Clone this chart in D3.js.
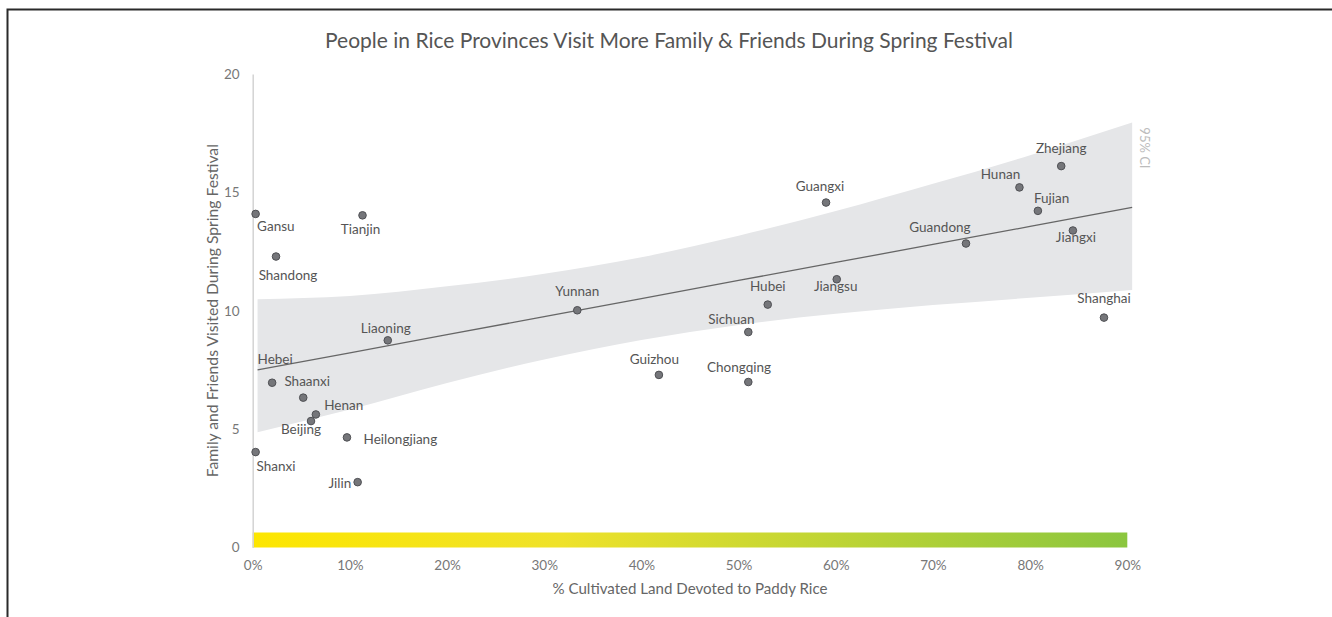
<!DOCTYPE html>
<html>
<head>
<meta charset="utf-8">
<script src="https://cdn.jsdelivr.net/npm/d3@7"></script>
<style>
  html, body { margin: 0; padding: 0; background: #fff; }
  svg { display: block; }
  text { font-family: Lato, "Open Sans", sans-serif; }
</style>
</head>
<body>
<svg id="chart" width="1332" height="617"></svg>
<script>
// Provinces: share of cultivated land in paddy rice (%) and family/friends visited
const provinces = ["Gansu", "Tianjin", "Shandong", "Liaoning", "Hebei", "Shaanxi", "Henan", "Beijing",
  "Heilongjiang", "Shanxi", "Jilin", "Yunnan", "Hubei", "Sichuan", "Guizhou", "Chongqing",
  "Guangxi", "Jiangsu", "Guandong", "Hunan", "Fujian", "Zhejiang", "Jiangxi", "Shanghai"];
const riceShare = [0.3, 11.3, 2.4, 13.9, 2.0, 5.2, 6.5, 6.0,
  9.7, 0.3, 10.8, 33.4, 53.0, 51.0, 41.8, 51.0,
  59.0, 60.1, 73.4, 78.9, 80.8, 83.2, 84.4, 87.6];
const visited = [14.09, 14.03, 12.29, 8.75, 6.96, 6.33, 5.62, 5.34,
  4.65, 4.03, 2.76, 10.02, 10.26, 9.10, 7.29, 6.99,
  14.57, 11.33, 12.84, 15.21, 14.22, 16.11, 13.39, 9.71];

// Fitted trend with its 95% confidence band
const fitX = [0.5, 10, 20, 30, 40, 50, 60, 70, 80, 90.5];
const fitY = [7.50, 8.22, 8.99, 9.75, 10.51, 11.28, 12.04, 12.80, 13.56, 14.37];
const ciUpper = [10.49, 10.62, 11.03, 11.56, 12.26, 13.17, 14.21, 15.36, 16.57, 17.95];
const ciLower = [4.87, 5.83, 6.95, 7.94, 8.76, 9.40, 9.87, 10.24, 10.55, 10.88];

const xTicks = [0, 10, 20, 30, 40, 50, 60, 70, 80, 90];
const yTicks = [0, 5, 10, 15, 20];

// Label placement around each dot: [dx, dy, anchor]
const labelPlacement = {
  Gansu: [1.5, 12, "start"], Tianjin: [-2, 14, "middle"], Shandong: [12, 18.5, "middle"],
  Liaoning: [-2, -12, "middle"], Hebei: [3, -23.5, "middle"], Shaanxi: [4, -16, "middle"],
  Henan: [8.3, -8.7, "start"], Beijing: [-10, 8.6, "middle"], Heilongjiang: [16.6, 2, "start"],
  Shanxi: [1, 14.3, "start"], Jilin: [-6.4, 1.6, "end"], Yunnan: [0, -19, "middle"],
  Hubei: [0, -18.6, "middle"], Sichuan: [-17, -12.7, "middle"], Guizhou: [-4.5, -15.7, "middle"],
  Chongqing: [-9.3, -15, "middle"], Guangxi: [-6, -16.3, "middle"], Jiangsu: [-1, 6.7, "middle"],
  Guandong: [-26, -16.6, "middle"], Hunan: [-19, -13, "middle"], Fujian: [13.7, -13, "middle"],
  Zhejiang: [0, -18, "middle"], Jiangxi: [3, 7, "middle"], Shanghai: [0, -19, "middle"]
};

const svg = d3.select("#chart");
const x = d3.scaleLinear().domain([0, 90]).range([252.7, 1127.3]);
const y = d3.scaleLinear().domain([0, 20]).range([547.5, 74]);

// frame lines along the top and left edges
svg.append("path")
  .attr("d", "M7.5,617V9.5H1332")
  .attr("fill", "none").attr("stroke", "#2a2a2a").attr("stroke-width", 2);

// title
svg.append("text")
  .attr("x", 669).attr("y", 48)
  .attr("text-anchor", "middle")
  .attr("font-size", 21).attr("fill", "#555")
  .text("People in Rice Provinces Visit More Family & Friends During Spring Festival");

// confidence band
const fitRows = fitX.map((v, i) => ({ x: v, fit: fitY[i], hi: ciUpper[i], lo: ciLower[i] }));
svg.append("path")
  .datum(fitRows)
  .attr("fill", "#e5e6e8")
  .attr("d", d3.area().curve(d3.curveMonotoneX)
    .x(d => x(d.x)).y0(d => y(d.lo)).y1(d => y(d.hi)));

svg.append("text")
  .attr("transform", `translate(${x(90.5) + 8},${y(18) + 6}) rotate(90)`)
  .attr("font-size", 13).attr("fill", "#bcbcbc")
  .text("95% CI");

// colour strip along the x axis
const defs = svg.append("defs");
const grad = defs.append("linearGradient").attr("id", "riceGrad")
  .attr("x1", "0%").attr("x2", "100%").attr("y1", "0%").attr("y2", "0%");
[["0%", "#fde600"], ["35%", "#efe22a"], ["100%", "#8bc63f"]].forEach(([o, c]) =>
  grad.append("stop").attr("offset", o).attr("stop-color", c));
svg.append("rect")
  .attr("x", x(0)).attr("width", x(90) - x(0))
  .attr("y", y(0) - 15).attr("height", 15)
  .attr("fill", "url(#riceGrad)");

// axes
const yAxis = svg.append("g")
  .attr("transform", `translate(${x(0)},0)`)
  .call(d3.axisLeft(y).tickValues(yTicks).tickSize(0).tickPadding(13));
yAxis.select(".domain").attr("stroke", "#d3d3d3").attr("stroke-width", 1.5);
yAxis.selectAll("text").attr("font-size", 13.5).attr("fill", "#777").attr("font-family", "Lato, sans-serif");

const xAxis = svg.append("g")
  .attr("transform", `translate(0,${y(0)})`)
  .call(d3.axisBottom(x).tickValues(xTicks).tickSize(0).tickPadding(13).tickFormat(d => d + "%"));
xAxis.select(".domain").remove();
xAxis.selectAll("text").attr("font-size", 13.5).attr("fill", "#777").attr("font-family", "Lato, sans-serif");

// axis titles
svg.append("text")
  .attr("transform", `translate(218,${y(10)}) rotate(-90)`)
  .attr("text-anchor", "middle")
  .attr("font-size", 15.7).attr("fill", "#666")
  .text("Family and Friends Visited During Spring Festival");
svg.append("text")
  .attr("x", 690).attr("y", 594)
  .attr("text-anchor", "middle")
  .attr("font-size", 15.1).attr("fill", "#666")
  .text("% Cultivated Land Devoted to Paddy Rice");

// trend line
svg.append("path")
  .datum(fitRows)
  .attr("fill", "none").attr("stroke", "#666").attr("stroke-width", 1.3)
  .attr("d", d3.line().x(d => x(d.x)).y(d => y(d.fit)));

// province points and labels
const points = provinces.map((p, i) => ({ name: p, rice: riceShare[i], visits: visited[i] }));
const g = svg.append("g");
g.selectAll("circle").data(points).join("circle")
  .attr("cx", d => x(d.rice)).attr("cy", d => y(d.visits))
  .attr("r", 3.8)
  .attr("fill", "#75767a").attr("stroke", "#4f5054").attr("stroke-width", 1);
g.selectAll("text").data(points).join("text")
  .attr("x", d => x(d.rice) + labelPlacement[d.name][0])
  .attr("y", d => y(d.visits) + labelPlacement[d.name][1])
  .attr("dy", "0.35em")
  .attr("text-anchor", d => labelPlacement[d.name][2])
  .attr("font-size", 13.5).attr("fill", "#555")
  .text(d => d.name);
</script>
</body>
</html>
